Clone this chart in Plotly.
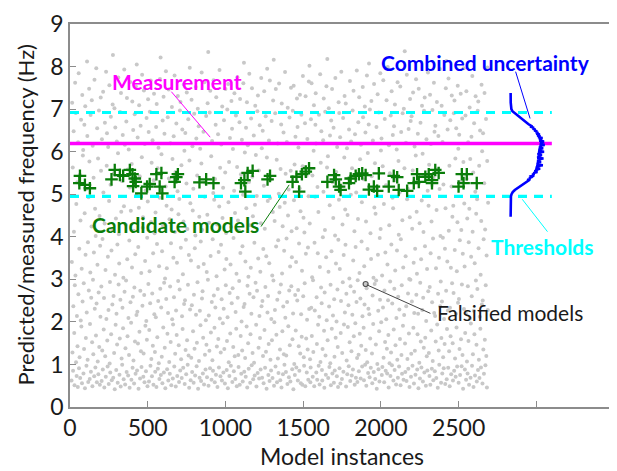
import numpy as np
import plotly.graph_objects as go

# ---------------- data ----------------
# Falsified model predictions (Hz), in instance order
falsified_freq = [
0.62,3.41,7.15,1.28,5.63,0.85,2.37,6.48,4.12,1.74,0.51,2.86,7.62,3.09,6.91,1.05,4.77,0.73,2.14,5.28,
1.43,0.47,6.22,2.65,7.84,0.91,3.72,1.17,5.46,0.68,4.38,2.03,6.75,1.89,3.25,0.56,7.33,2.48,5.91,6.04,
0.79,2.91,1.36,6.63,4.55,0.44,7.07,3.58,1.62,5.12,0.97,2.22,8.12,6.37,1.11,3.87,0.59,4.93,2.74,7.48,
5.77,0.66,1.95,3.16,6.86,0.83,2.57,4.24,7.21,1.52,0.49,6.14,2.99,1.24,5.39,3.63,0.72,7.69,2.31,4.66,
0.93,4.02,1.68,7.96,2.43,0.58,6.55,3.34,1.07,5.84,0.77,2.69,6.97,1.41,4.49,0.52,3.79,2.12,7.27,5.55,
2.83,0.61,6.29,1.33,3.95,0.88,7.41,5.04,1.82,2.56,0.46,4.31,6.68,1.19,3.22,0.71,7.88,2.07,5.67,6.43,
1.56,0.95,3.53,6.11,2.28,0.54,4.84,7.56,1.02,2.94,0.81,5.22,6.82,1.71,3.68,0.63,4.17,2.41,7.11,8.27,
0.69,2.61,5.49,1.27,7.02,0.42,3.11,6.57,1.93,4.43,0.87,2.19,6.24,1.47,3.82,0.57,5.96,7.74,2.88,4.06,
3.37,0.76,1.61,6.93,2.52,0.48,7.38,4.59,1.14,5.31,0.99,2.33,6.39,1.85,3.04,0.65,4.72,7.93,2.71,6.16,
0.53,1.38,4.28,2.97,6.71,0.82,7.26,3.47,1.66,5.58,0.74,2.09,6.05,1.22,3.91,0.45,5.16,7.64,2.46,4.61,
1.98,0.64,5.71,3.28,7.18,0.92,2.59,6.51,1.09,4.14,0.55,2.81,6.88,1.54,3.59,0.78,7.53,4.97,2.16,8.05,
0.86,2.24,6.33,1.49,3.76,0.43,4.68,7.09,1.77,5.42,0.67,2.73,6.61,1.31,3.15,0.94,5.87,7.81,2.38,4.21,
4.46,0.71,1.26,7.44,2.63,0.58,6.18,3.43,1.91,5.09,0.84,2.02,6.79,1.58,3.98,0.49,4.83,7.23,2.89,6.46,
0.60,1.81,3.19,6.94,2.44,0.97,7.67,4.35,1.13,5.74,0.72,2.67,6.27,1.44,3.61,0.52,5.33,7.36,2.18,4.08,
1.29,0.83,4.57,2.11,6.58,0.47,7.12,3.83,1.64,5.61,0.90,2.49,6.09,1.03,3.31,0.66,4.92,7.71,2.78,8.21,
0.75,2.34,5.94,1.18,3.66,0.56,6.73,4.26,1.87,7.29,0.81,2.92,6.42,1.39,3.02,0.44,5.18,7.89,2.54,4.73,
3.26,0.89,1.72,6.81,2.21,0.62,7.46,5.37,1.06,4.41,0.78,2.83,6.20,1.53,3.85,0.51,4.64,7.05,2.06,5.83,
0.67,1.94,3.51,6.36,2.58,0.95,7.79,4.11,1.25,5.52,0.48,2.27,6.66,1.69,3.39,0.73,5.07,7.31,2.96,4.53,
1.45,0.59,4.89,2.76,6.97,0.86,7.17,3.74,1.12,5.68,0.68,2.13,6.52,1.83,3.12,0.92,4.36,7.58,2.42,6.02,
0.54,2.51,6.44,1.34,3.93,0.77,5.25,7.39,1.57,4.18,0.99,2.87,6.76,1.21,3.57,0.45,5.79,7.97,2.29,4.79,
0.63,3.44,1.16,7.22,2.39,0.82,6.13,4.62,1.78,5.13,0.57,2.64,6.89,1.37,3.73,0.74,4.03,7.52,2.17,6.31,
0.96,1.51,5.44,2.93,7.01,0.43,3.29,6.60,1.08,4.47,0.69,2.26,6.07,1.92,3.89,0.61,5.72,7.86,2.55,4.16,
2.72,0.79,1.63,6.47,3.36,0.53,7.63,4.94,1.23,5.27,0.88,2.04,6.84,1.46,3.17,0.70,4.52,7.14,2.99,8.34,
0.50,2.15,4.33,1.32,6.92,0.91,7.43,3.55,1.75,5.89,0.64,2.47,6.25,1.10,3.94,0.85,5.03,7.68,2.62,4.87,
1.86,0.58,5.36,2.34,6.63,0.76,7.28,3.07,1.42,4.29,0.47,2.77,6.41,1.60,3.64,0.93,4.71,7.92,2.08,5.62,
0.72,1.28,3.81,6.17,2.53,0.62,7.06,4.44,1.97,5.15,0.81,2.31,6.74,1.36,3.23,0.55,5.51,7.47,2.86,4.09,
3.48,0.87,1.55,6.99,2.11,0.44,7.59,4.81,1.05,5.76,0.73,2.68,6.32,1.73,3.35,0.97,4.23,7.19,2.44,6.54,
0.59,2.79,6.06,1.41,3.97,0.84,5.08,7.37,1.19,4.56,0.66,2.23,6.85,1.84,3.13,0.49,5.64,7.75,2.57,4.38,
1.22,0.94,4.15,2.96,6.69,0.52,7.24,3.62,1.67,5.47,0.78,2.01,6.28,1.33,3.78,0.60,4.99,7.61,2.35,8.09,
0.83,2.42,5.98,1.15,3.42,0.71,6.56,4.67,1.89,7.16,0.46,2.85,6.15,1.50,3.06,0.90,5.29,7.83,2.66,4.27,
0.57,1.71,3.27,6.78,2.19,0.98,7.49,5.41,1.27,4.48,0.65,2.58,6.38,1.04,3.86,0.74,4.75,7.08,2.92,5.92,
1.93,0.48,4.96,2.73,6.95,0.80,7.32,3.49,1.39,5.56,0.67,2.14,6.62,1.62,3.18,0.88,4.32,7.73,2.37,6.08,
0.69,2.49,6.49,1.20,3.71,0.56,5.20,7.42,1.81,4.19,0.92,2.82,6.83,1.30,3.54,0.43,5.86,7.95,2.22,4.84,
2.61,0.75,1.48,6.26,3.38,0.61,7.67,4.91,1.11,5.35,0.86,2.07,6.72,1.57,3.09,0.68,4.58,7.20,2.97,8.16,
0.50,1.99,4.37,2.28,6.90,0.95,7.47,3.77,1.70,5.81,0.58,2.52,6.19,1.14,3.92,0.80,5.01,7.60,2.69,4.70,
1.35,0.63,5.59,2.88,6.64,0.46,7.13,3.14,1.78,4.25,0.77,2.36,6.45,1.24,3.67,0.99,4.80,7.87,2.10,5.48,
0.82,1.21,3.96,6.23,2.47,0.54,7.03,4.50,1.90,5.11,0.70,2.74,6.80,1.45,3.30,0.60,5.55,7.50,2.84,4.13,
3.52,0.89,1.59,6.96,2.20,0.42,7.55,4.86,1.01,5.70,0.75,2.63,6.35,1.80,3.41,0.93,4.20,7.25,2.50,6.58,
0.62,2.75,6.10,1.43,3.84,0.85,5.14,7.34,1.26,4.60,0.56,2.18,6.87,1.65,3.20,0.52,5.66,7.78,2.60,4.45,
1.17,0.97,4.10,2.91,6.67,0.49,7.30,3.60,1.61,5.43,0.81,2.05,6.30,1.35,3.75,0.64,4.95,7.65,2.30,8.02,
4.31,1.12,0.58,0.93,6.76,2.33,7.61,1.67,3.05,5.44,0.71,2.98,1.29,6.02,7.09,0.49,3.86,2.27,4.94,6.63,
7.37,6.19,0.81,2.58,1.48,0.64,5.17,3.61,1.93,4.58,0.97,6.87,2.12,0.53,3.29,7.82,1.06,5.74,2.81,6.48,
2.44,0.87,0.62,1.36,3.99,6.27,5.06,7.25,1.79,0.45,2.69,4.16,6.94,1.21,0.76,3.52,7.54,2.04,5.63,8.18,
1.57,5.89,0.68,3.18,7.02,2.36,0.94,4.74,6.38,1.03,2.87,0.51,6.73,3.66,1.84,7.47,0.79,5.28,2.15,4.44,
6.56,0.57,2.53,1.18,0.86,4.03,7.73,1.63,3.37,5.52,2.01,0.72,6.11,2.76,1.41,0.47,3.93,7.16,4.87,6.91,
0.91,3.24,6.34,0.55,1.74,2.49,7.88,5.19,0.66,1.27,4.29,2.93,6.79,0.83,3.57,1.94,5.86,7.31,2.22,4.64,
3.81,7.13,0.48,2.66,1.09,6.08,0.77,4.51,1.88,5.37,2.39,0.96,6.52,3.02,1.52,7.66,0.61,2.84,4.99,6.24,
1.31,0.74,5.61,2.17,6.97,0.88,3.44,7.43,1.66,2.71,4.13,0.52,6.41,1.97,3.76,0.69,5.04,2.47,7.91,1.15,
0.59,2.98,4.42,6.69,1.23,0.84,7.28,3.15,1.72,5.82,2.55,0.67,6.16,1.44,3.89,4.81,0.95,2.13,7.52,6.81,
5.35,1.86,0.63,3.31,2.41,7.06,0.99,6.45,1.34,4.36,0.50,2.79,7.79,1.05,3.71,5.97,0.80,2.31,6.64,8.07,
2.18,0.70,6.99,1.61,4.08,0.92,3.48,7.19,5.42,1.26,0.56,2.62,6.26,1.95,3.04,0.82,7.59,4.69,2.89,5.73,
0.66,4.54,1.47,2.97,6.58,0.43,5.13,1.01,7.35,3.58,2.26,0.89,6.92,1.78,0.60,3.97,2.52,7.84,4.18,6.03,
1.99,6.31,0.75,3.09,0.94,5.66,2.34,7.68,1.16,4.77,0.58,2.74,6.77,1.53,3.63,0.85,5.21,2.06,7.21,1.37,
0.79,3.35,7.99,2.51,1.69,0.46,6.15,4.27,1.03,5.49,2.95,0.73,6.85,1.28,3.82,7.42,0.98,2.43,4.92,6.39,
4.67,0.62,1.82,6.60,2.78,0.87,7.11,3.21,1.45,5.33,0.53,2.09,6.05,3.68,1.11,7.63,0.69,2.59,5.78,4.05,
0.95,2.29,5.04,1.60,7.53,0.51,3.94,6.46,1.22,2.86,0.78,4.39,6.90,1.91,3.28,0.64,7.01,2.16,5.61,8.36,
1.49,0.82,3.54,6.21,2.37,0.61,7.81,4.88,1.13,5.13,2.67,0.90,6.53,1.73,3.01,0.47,4.46,7.24,2.99,6.72,
0.71,1.25,6.83,2.48,4.19,0.97,5.56,7.39,1.86,3.39,0.55,2.21,6.12,1.32,3.72,0.76,5.91,7.70,2.64,4.59,
3.13,0.88,1.71,6.42,2.19,0.44,7.48,5.27,1.04,4.32,0.67,2.92,6.68,1.54,3.47,0.93,4.85,7.08,2.28,5.95,
0.60,2.57,4.11,1.39,6.96,0.81,7.27,3.78,1.63,5.45,0.50,2.02,6.29,1.19,3.24,0.86,5.08,7.86,2.72,4.73,
1.27,5.69,0.73,2.82,7.34,0.52,3.61,6.18,1.80,4.36,0.90,2.46,6.98,1.08,3.96,0.63,5.39,7.62,2.21,6.47,
0.84,2.14,6.61,1.54,3.26,0.68,4.63,7.17,1.94,5.58,0.45,2.66,6.37,1.33,3.51,0.99,5.12,7.94,2.37,4.02,
2.95,0.57,1.62,7.08,2.48,0.79,6.23,3.98,1.17,5.23,0.91,2.07,6.86,1.48,3.72,0.54,4.67,7.49,2.73,8.13,
0.65,1.83,3.42,6.52,2.27,0.92,7.72,4.14,1.31,5.67,0.49,2.33,6.74,1.66,3.27,0.77,5.18,7.32,2.91,4.47,
1.50,0.62,4.73,2.68,6.90,0.85,7.20,3.69,1.14,5.84,0.71,2.19,6.55,1.87,3.19,0.95,4.34,7.55,2.45,6.07,
0.57,2.54,6.40,1.36,3.92,0.75,5.29,7.36,1.59,4.16,0.96,2.88,6.78,1.22,3.60,0.43,5.76,7.96,2.30,4.78,
3.30,0.88,1.74,6.85,2.20,0.64,7.42,5.36,1.07,4.43,0.79,2.84,6.22,1.55,3.87,0.52,4.66,7.04,2.08,5.83,
0.69,1.96,3.53,6.35,2.60,0.97,7.78,4.12,1.24,5.51,0.47,2.26,6.67,1.71,3.38,0.74,5.06,7.30,2.97,4.54,
1.46,0.60,4.88,2.77,6.96,0.87,7.18,3.73,1.11,5.67,0.68,2.12,6.50,1.84,3.11,0.93,4.37,7.57,2.41,6.01,
0.55,2.50,6.43,1.35,3.94,0.78,5.26,7.38,1.58,4.17,0.98,2.86,6.77,1.20,3.56,0.46,5.78,7.98,2.28,4.80,
]
first_instance, last_instance = 10, 2690

# Candidate models (instance, predicted frequency Hz)
candidate_instance = [64, 60, 96, 128, 267, 288, 321, 342, 385, 402, 417, 423, 406, 459,
                      496, 513, 556, 588, 577, 594, 673, 694, 684, 833, 876, 923,
                      1100, 1122, 1143, 1175, 1128, 1271, 1287, 1432, 1457, 1492, 1517, 1474, 1538,
                      1656, 1699, 1710, 1731, 1741, 1795, 1806, 1838, 1859, 1880, 1902,
                      1923, 1955, 1976, 1987, 2051, 2083, 2105, 2115, 2169, 2212, 2233, 2244,
                      2286, 2308, 2329, 2350, 2372, 2329, 2500, 2521, 2553, 2532, 2617]
candidate_freq = [5.43, 5.26, 5.22, 5.14, 5.35, 5.57, 5.45, 5.43, 5.57, 5.47, 5.37, 5.29, 5.19, 5.02,
                  5.18, 5.24, 5.47, 5.50, 5.18, 5.02, 5.29, 5.47, 5.40, 5.28, 5.35, 5.26,
                  5.26, 5.33, 5.50, 5.55, 5.06, 5.35, 5.43, 5.29, 5.41, 5.47, 5.53, 5.06, 5.61,
                  5.29, 5.45, 5.35, 5.18, 5.10, 5.26, 5.37, 5.43, 5.47, 5.49, 5.45,
                  5.11, 5.18, 5.08, 5.49, 5.18, 5.43, 5.40, 5.10, 5.08, 5.26, 5.47, 5.29,
                  5.41, 5.47, 5.33, 5.57, 5.50, 5.26, 5.18, 5.47, 5.47, 5.26, 5.26]

measurement = 6.19
thresholds = [4.95, 6.92]

# Combined uncertainty (frequency Hz, relative density)
unc_freq = [4.47, 4.70, 4.90, 4.95, 5.00, 5.05, 5.10, 5.15, 5.20, 5.25,
            5.30, 5.32, 5.34, 5.36, 5.38, 5.40, 5.42, 5.44, 5.46, 5.48, 5.50, 5.52, 5.54, 5.56, 5.58,
            5.60, 5.62, 5.64, 5.66, 5.68, 5.70, 5.72, 5.74, 5.76, 5.78, 5.80, 5.82, 5.84, 5.86, 5.88,
            5.90, 5.92, 5.94, 5.96, 5.98, 6.00, 6.02, 6.04, 6.06, 6.08, 6.10, 6.12, 6.14, 6.16, 6.18,
            6.20, 6.22, 6.24, 6.26, 6.28, 6.30, 6.32, 6.34, 6.36, 6.38, 6.40, 6.42, 6.44, 6.46, 6.48,
            6.50, 6.52, 6.54, 6.56, 6.58, 6.60,
            6.65, 6.70, 6.75, 6.80, 6.85, 6.90, 6.95, 7.00, 7.05, 7.15, 7.38]
unc_density = [0.0, 0.0, 0.005, 0.01, 0.03, 0.07, 0.14, 0.24, 0.34, 0.44,
               0.53, 0.60, 0.56, 0.66, 0.62, 0.70, 0.68, 0.79, 0.72, 0.80, 0.76, 0.90, 0.80, 0.86, 0.83,
               0.99, 0.84, 0.93, 0.86, 1.08, 0.87, 0.95, 0.88, 1.02, 0.89, 0.97, 0.90, 1.10, 0.89, 0.98,
               0.91, 1.05, 0.90, 0.99, 0.92, 1.12, 0.93, 1.01, 0.94, 1.09, 0.95, 1.04, 0.97, 1.14, 0.98,
               1.08, 0.99, 1.12, 0.96, 1.05, 0.95, 1.07, 0.92, 1.00, 0.89, 0.98, 0.86, 0.93, 0.83, 0.89,
               0.79, 0.83, 0.74, 0.78, 0.69, 0.70,
               0.59, 0.50, 0.41, 0.32, 0.22, 0.13, 0.06, 0.025, 0.01, 0.003, 0.0]

x_ticks = [0, 500, 1000, 1500, 2000, 2500, 3000]
x_tick_labels = ["0", "500", "1000", "1500", "2000", "2500", ""]
y_ticks = list(range(0, 10))

# ---------------- styling / layout constants ----------------
FONT = "Lato, 'Open Sans', sans-serif"
line_end = 3100
unc_base = 2835
unc_scale = 192

falsified_instance = np.linspace(first_instance, last_instance, len(falsified_freq))

fig = go.Figure()

fig.add_trace(go.Scatter(
    x=falsified_instance, y=falsified_freq, mode="markers",
    marker=dict(size=4, color="#c8c8c8", line=dict(width=0)),
    hoverinfo="skip", showlegend=False))

for t in thresholds:
    fig.add_trace(go.Scatter(
        x=[0, line_end], y=[t, t], mode="lines",
        line=dict(color="#00ffff", width=3.2, dash="9px,7px"),
        hoverinfo="skip", showlegend=False))

fig.add_trace(go.Scatter(
    x=[0, line_end], y=[measurement, measurement], mode="lines",
    line=dict(color="#ff00ff", width=3.5),
    hoverinfo="skip", showlegend=False))

fig.add_trace(go.Scatter(
    x=candidate_instance, y=candidate_freq, mode="markers",
    marker=dict(symbol="cross-thin", size=9, line=dict(width=2.3, color="#0a7d0a")),
    hoverinfo="skip", showlegend=False))

fig.add_trace(go.Scatter(
    x=[unc_base + d * unc_scale for d in unc_density], y=unc_freq, mode="lines",
    line=dict(color="#0000ff", width=2.6),
    hoverinfo="skip", showlegend=False))

# highlighted falsified point
fig.add_trace(go.Scatter(
    x=[1902], y=[2.89], mode="markers",
    marker=dict(size=5, color="#c8c8c8", line=dict(width=1.2, color="#555555")),
    hoverinfo="skip", showlegend=False))

leaders = [
    (652, 7.41, 902, 6.34, "#ff00ff"),
    (1229, 4.24, 1410, 5.22, "#0a7d0a"),
    (2867, 7.88, 2960, 6.78, "#0000ff"),
    (2910, 4.88, 3072, 4.12, "#00ffff"),
    (1910, 2.87, 2319, 2.20, "#444444"),
]
for x0, y0, x1, y1, c in leaders:
    fig.add_shape(type="line", x0=x0, y0=y0, x1=x1, y1=y1, xref="x", yref="y",
                  line=dict(color=c, width=1))

labels = [
    ("Measurement", 689, 7.64, "#ff00ff", True),
    ("Combined uncertainty", 2673, 8.1, "#0000ff", True),
    ("Candidate models", 676, 4.28, "#0a7d0a", True),
    ("Thresholds", 3038, 3.77, "#00ffff", True),
    ("Falsified models", 2830, 2.21, "#1a1a1a", False),
]
for txt, x, y, c, bold in labels:
    fig.add_annotation(x=x, y=y, xref="x", yref="y", text=f"<b>{txt}</b>" if bold else txt,
                       showarrow=False, xanchor="center", yanchor="middle",
                       font=dict(family=FONT, size=21, color=c))

# axis titles
fig.add_annotation(x=0, y=0.5, xref="paper", yref="paper", xshift=-45,
                   text="Predicted/measured frequency (Hz)", textangle=-90, showarrow=False,
                   xanchor="center", yanchor="middle",
                   font=dict(family=FONT, size=22, color="#1a1a1a"))
fig.add_annotation(x=0.5, y=0, xref="paper", yref="paper", yshift=-49,
                   text="Model instances", showarrow=False,
                   xanchor="center", yanchor="middle",
                   font=dict(family=FONT, size=23, color="#1a1a1a"))

axis_common = dict(showgrid=False, zeroline=False, showline=True, mirror=True,
                   linecolor="#8c8c8c", linewidth=1.5, ticks="inside", ticklen=6,
                   tickcolor="#8c8c8c", tickwidth=1.2,
                   tickfont=dict(family=FONT, size=23, color="#1a1a1a"))
fig.update_xaxes(range=[0, 3500], tickmode="array", tickvals=x_ticks, ticktext=x_tick_labels,
                 **axis_common)
fig.update_yaxes(range=[0, 9], tickmode="array", tickvals=y_ticks, **axis_common)

# page body has an 8px margin: figure is sized/offset so the plot area lands where the reference has it
fig.update_layout(width=609, height=463, margin=dict(l=62, r=1, t=16, b=64),
                  plot_bgcolor="white", paper_bgcolor="white", showlegend=False)

fig.write_html("out.html")
